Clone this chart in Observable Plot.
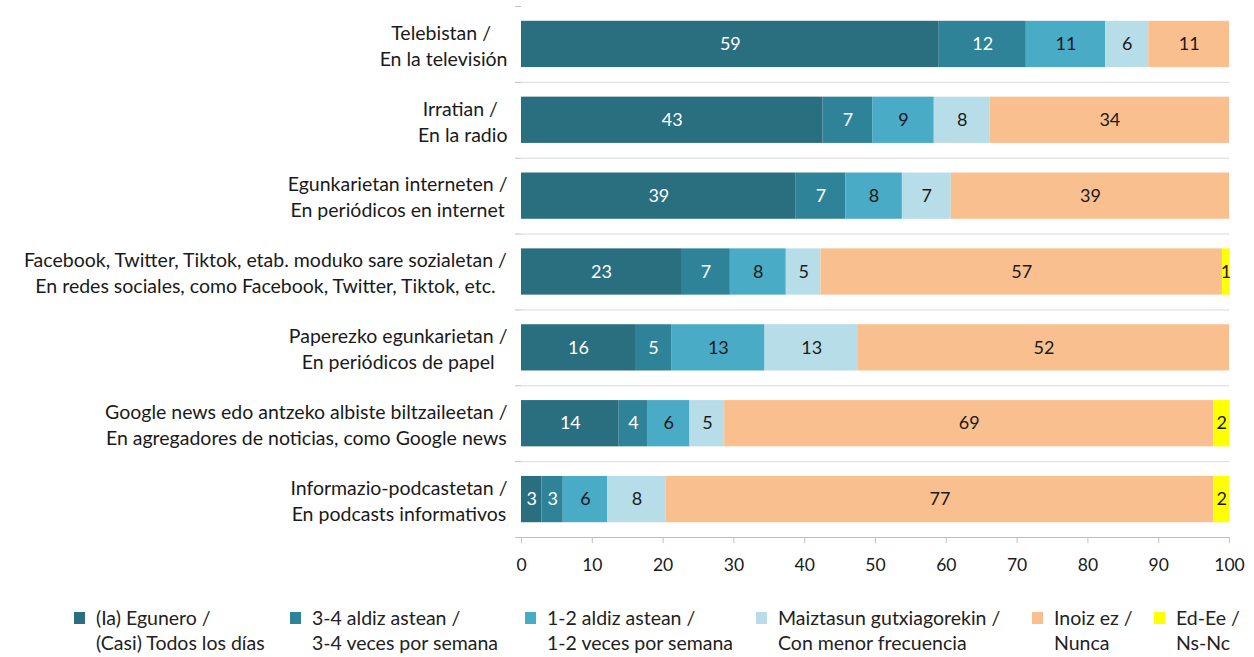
<!DOCTYPE html>
<html>
<head>
<meta charset="utf-8">
<script src="https://cdn.jsdelivr.net/npm/d3@7"></script>
<script src="https://cdn.jsdelivr.net/npm/@observablehq/plot@0.6"></script>
<style>
  body { margin: 0; background: #fff; font-family: Lato, "Open Sans", sans-serif; }
  #chart { width: 1254px; }
  #legend { position: relative; width: 1254px; height: 70px; margin-top: 30px; font-size: 19.5px; color: #222; }
  .item { position: absolute; top: 0; display: flex; align-items: flex-start; }
  .sw { width: 11px; height: 12px; margin-top: 7px; margin-right: 11px; flex: none; }
  .lab { line-height: 25px; white-space: nowrap; }
</style>
</head>
<body>
<div id="chart"></div>
<div id="legend"></div>
<script>
// ---- data ----
const categories = [
  "Telebistan / \nEn la televisión",
  "Irratian / \nEn la radio",
  "Egunkarietan interneten /\nEn periódicos en internet",
  "Facebook, Twitter, Tiktok, etab. moduko sare sozialetan /\nEn redes sociales, como Facebook, Twitter, Tiktok, etc.",
  "Paperezko egunkarietan /\nEn periódicos de papel",
  "Google news edo antzeko albiste biltzaileetan /\nEn agregadores de noticias, como Google news",
  "Informazio-podcastetan /\nEn podcasts informativos"
];
const seriesNames = [
  "(Ia) Egunero /\n(Casi) Todos los días",
  "3-4 aldiz astean /\n3-4 veces por semana",
  "1-2 aldiz astean /\n1-2 veces por semana",
  "Maiztasun gutxiagorekin /\nCon menor frecuencia",
  "Inoiz ez /\nNunca",
  "Ed-Ee /\nNs-Nc"
];
const egunero   = [59.0, 42.6, 38.8, 22.6, 16.1, 13.8, 2.9];
const aste34    = [12.3, 7.0, 7.0, 6.9, 5.1, 4.0, 3.0];
const aste12    = [11.2, 8.7, 8.0, 7.9, 13.2, 6.0, 6.3];
const gutxiago  = [6.1, 7.9, 6.9, 4.9, 13.2, 4.9, 8.2];
const inoiz     = [11.4, 33.8, 39.3, 56.7, 52.4, 69.1, 77.4];
const nsnc      = [0, 0, 0, 1.0, 0, 2.2, 2.2];
const xTicks = [0, 10, 20, 30, 40, 50, 60, 70, 80, 90, 100];
const colors = ["#2a6f80", "#2f8399", "#4aabc6", "#b7dde8", "#f9bf8f", "#ffff00"];
const textColors = ["#ffffff", "#ffffff", "#1a1a1a", "#1a1a1a", "#1a1a1a", "#1a1a1a"];

const seriesValues = [egunero, aste34, aste12, gutxiago, inoiz, nsnc];
const rows = [];
seriesNames.forEach((s, si) => {
  categories.forEach((c, ci) => {
    rows.push({cat: c, series: s, si, value: seriesValues[si][ci]});
  });
});

// ---- layout ----
const W = 1254, H = 575;
const mL = 521, mR = 25, mT = 6, mB = 38;
const step = (H - mT - mB) / categories.length;
const fontFam = "Lato, 'Open Sans', sans-serif";
const labFont = 19.5;

const canvas = document.createElement("canvas");
const ctx = canvas.getContext("2d");
ctx.font = `${labFont}px Lato`;
function maxW(s) { return Math.max(...s.split("\n").map(l => ctx.measureText(l).width)); }

const gray = "#d9d9d9";
const axisGray = "#bfbfbf";

const labelMarks = categories.map(c => Plot.text([c], {
  x: 0, y: d => d, text: d => d,
  dx: -(14 + maxW(c) / 2), textAnchor: "middle", lineHeight: 26 / labFont,
  fontSize: labFont, fill: "#1a1a1a"
}));

const chart = Plot.plot({
  width: W, height: H,
  marginLeft: mL, marginRight: mR, marginTop: mT, marginBottom: mB,
  style: {fontFamily: fontFam, background: "#fff"},
  x: {domain: [0, 100], ticks: xTicks, axis: null, label: null},
  y: {domain: categories, padding: 0.39, paddingOuter: 0.195, round: false, axis: null},
  color: {domain: seriesNames, range: colors},
  marks: [
    // separators between rows
    Plot.ruleY(categories.slice(1), {y: d => d, dy: -step / 2, x1: 0, x2: 100, stroke: gray, strokeWidth: 1}),
    // left ticks at band boundaries
    Plot.ruleY(categories, {y: d => d, dy: -step / 2, x1: 0, x2: 0, insetLeft: -6, stroke: axisGray}),
    Plot.ruleY(categories.slice(-1), {y: d => d, dy: step / 2, x1: 0, x2: 0, insetLeft: -6, stroke: axisGray}),
    Plot.barX(rows, Plot.stackX({
      x: "value", y: "cat", z: "series", fill: "series", order: seriesNames
    })),
    Plot.text(rows.filter(d => d.value > 0), Plot.stackX({
      x: "value", y: "cat", z: "series", order: seriesNames,
      text: d => Math.round(d.value),
      fill: d => textColors[d.si], fontSize: 18
    })),
    // axis lines
    Plot.ruleX([0], {y1: categories[0], y2: categories[categories.length - 1], insetTop: -step / 2, insetBottom: -step / 2, stroke: axisGray}),
    Plot.ruleY(categories.slice(-1), {y: d => d, dy: step / 2, x1: 0, x2: 100, stroke: axisGray}),
    Plot.axisX({ticks: xTicks, tickSize: 6, tickPadding: 15, stroke: axisGray, fill: "#1a1a1a", fontSize: 17.5, anchor: "bottom", label: null}),
    ...labelMarks
  ]
});
document.getElementById("chart").appendChild(chart);

// ---- legend ----
const legendLeft = [74, 290, 525, 756, 1032, 1154];
const legend = document.getElementById("legend");
seriesNames.forEach((s, i) => {
  const it = document.createElement("div");
  it.className = "item";
  it.style.left = legendLeft[i] + "px";
  const sw = document.createElement("div");
  sw.className = "sw";
  sw.style.background = colors[i];
  const lab = document.createElement("div");
  lab.className = "lab";
  lab.innerHTML = s.split("\n").join("<br>");
  it.appendChild(sw); it.appendChild(lab);
  legend.appendChild(it);
});
</script>
</body>
</html>
